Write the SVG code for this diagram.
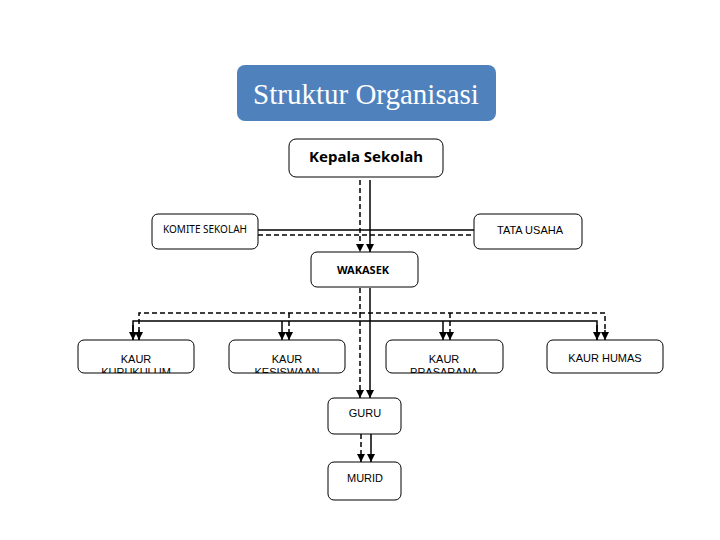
<svg xmlns="http://www.w3.org/2000/svg" width="720" height="540" viewBox="0 0 720 540">
<style>
.box{fill:#fff;stroke:#000;stroke-width:1}
.t{font-family:"Liberation Sans",Arial,sans-serif;font-size:11px;fill:#000;text-anchor:middle}
.c{font-family:"Noto Sans","Open Sans",sans-serif;fill:#000;text-anchor:middle}
.s{stroke:#000;fill:none;stroke-width:1.5}
.d{stroke:#000;fill:none;stroke-width:1.5;stroke-dasharray:5,3}
</style>
<defs>
<marker id="ah" markerUnits="userSpaceOnUse" markerWidth="8" markerHeight="8" refX="8" refY="4" orient="auto">
<path d="M0,0 L8,4 L0,8 z" fill="#000"/>
</marker>
<clipPath id="c1"><rect x="78" y="340" width="116" height="33"/></clipPath>
<clipPath id="c2"><rect x="229" y="340" width="116" height="33"/></clipPath>
<clipPath id="c3"><rect x="386" y="340" width="117" height="33"/></clipPath>
</defs>
<rect width="720" height="540" fill="#fff"/>
<g id="title">
<rect x="237" y="65" width="259" height="56" rx="8" fill="#4F81BD"/>
<text x="366" y="104" font-family="'Liberation Serif','Times New Roman',serif" font-size="29" fill="#fff" text-anchor="middle">Struktur Organisasi</text>
</g>
<g id="connectors">
<line class="d" x1="360" y1="180" x2="360" y2="252" marker-end="url(#ah)"/>
<line class="s" x1="370" y1="180" x2="370" y2="252" stroke-width="2" marker-end="url(#ah)"/>
<line class="s" x1="258" y1="230" x2="474" y2="230" stroke-width="1"/>
<line class="d" x1="258" y1="235" x2="474" y2="235" stroke-width="1"/>
<line class="d" x1="360" y1="288" x2="360" y2="313" stroke-width="3"/>
<line class="d" x1="360" y1="313" x2="360" y2="398" marker-end="url(#ah)"/>
<line class="s" x1="370" y1="288" x2="370" y2="398" stroke-width="2.5" marker-end="url(#ah)"/>
<polyline class="s" points="133,340 133,321 597,321 597,340" stroke-width="1.5"/>
<line class="s" x1="282" y1="321" x2="282" y2="340" marker-end="url(#ah)"/>
<line class="s" x1="443" y1="321" x2="443" y2="340" marker-end="url(#ah)"/>
<line class="s" x1="133" y1="325" x2="133" y2="340" marker-end="url(#ah)"/>
<line class="s" x1="597" y1="325" x2="597" y2="340" marker-end="url(#ah)"/>
<polyline class="d" points="139,340 139,313 605,313 605,340" stroke-width="1.5"/>
<line class="d" x1="289" y1="313" x2="289" y2="340" marker-end="url(#ah)"/>
<line class="d" x1="450" y1="313" x2="450" y2="340" marker-end="url(#ah)"/>
<line class="s" x1="139" y1="330" x2="139" y2="340" marker-end="url(#ah)"/>
<line class="s" x1="605" y1="330" x2="605" y2="340" marker-end="url(#ah)"/>
<line class="d" x1="361" y1="434" x2="361" y2="462" marker-end="url(#ah)"/>
<line class="s" x1="371" y1="434" x2="371" y2="462" stroke-width="2" marker-end="url(#ah)"/>
</g>
<g id="kepala">
<rect class="box" x="289" y="139" width="154" height="38" rx="7"/>
<text class="c" x="366" y="162" font-size="15" font-weight="bold">Kepala Sekolah</text>
</g>
<g id="komite">
<rect class="box" x="152" y="214" width="106" height="35" rx="6"/>
<text class="c" x="205" y="233" font-size="10">KOMITE SEKOLAH</text>
</g>
<g id="tatausaha">
<rect class="box" x="474" y="214" width="108" height="35" rx="6"/>
<text class="t" x="530" y="234">TATA USAHA</text>
</g>
<g id="wakasek">
<rect class="box" x="311" y="252" width="107" height="35" rx="6"/>
<text class="c" x="363" y="274" font-size="11" font-weight="bold">WAKASEK</text>
</g>
<g id="kurikulum">
<rect class="box" x="78" y="340" width="116" height="33" rx="6"/>
<g clip-path="url(#c1)"><text class="t" x="136" y="363">KAUR</text><text class="t" x="136" y="376">KURUKULUM</text></g>
</g>
<g id="kesiswaan">
<rect class="box" x="229" y="340" width="116" height="33" rx="6"/>
<g clip-path="url(#c2)"><text class="t" x="287" y="363">KAUR</text><text class="t" x="287" y="376">KESISWAAN</text></g>
</g>
<g id="prasarana">
<rect class="box" x="386" y="340" width="117" height="33" rx="6"/>
<g clip-path="url(#c3)"><text class="t" x="444" y="363">KAUR</text><text class="t" x="444" y="376">PRASARANA</text></g>
</g>
<g id="humas">
<rect class="box" x="547" y="340" width="116" height="33" rx="6"/>
<text class="t" x="605" y="362">KAUR HUMAS</text>
</g>
<g id="guru">
<rect class="box" x="328" y="398" width="73" height="36" rx="6"/>
<text class="t" x="365" y="417">GURU</text>
</g>
<g id="murid">
<rect class="box" x="328" y="462" width="73" height="38" rx="6"/>
<text class="t" x="365" y="482">MURID</text>
</g>
</svg>
